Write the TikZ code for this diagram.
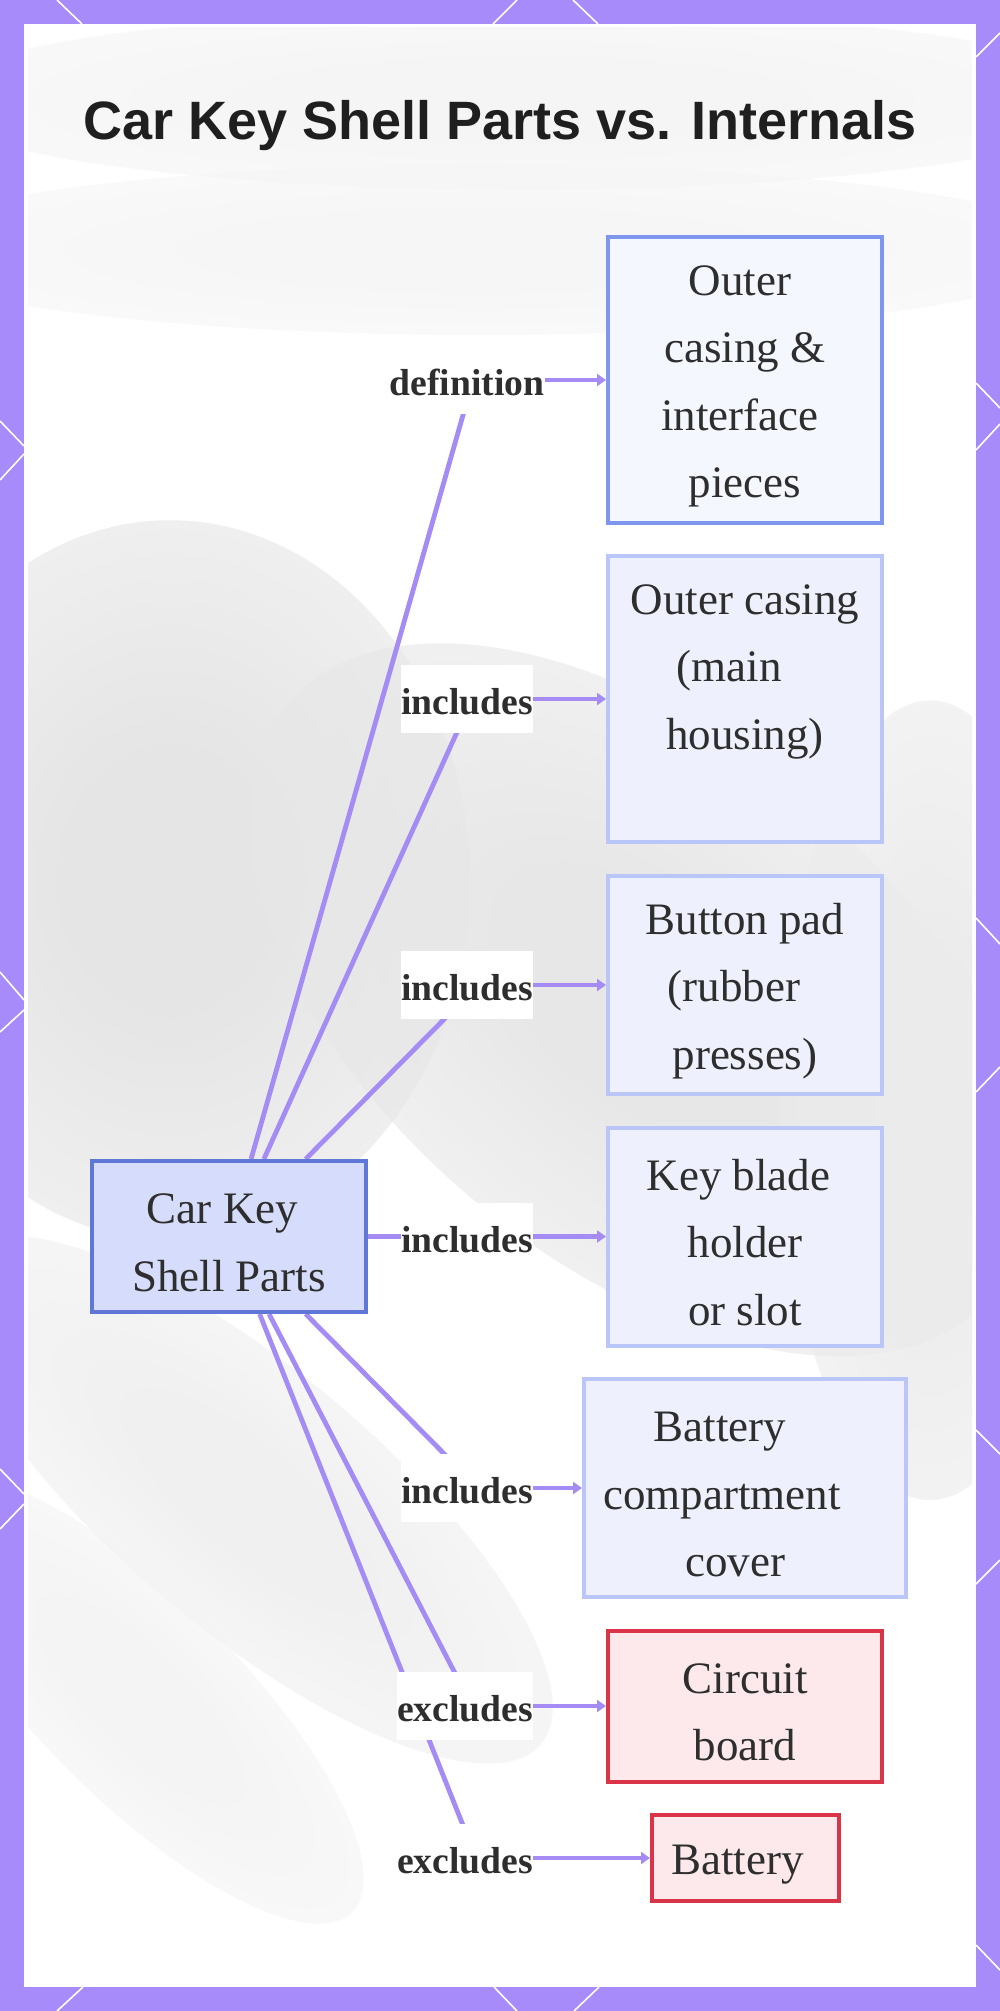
\documentclass[tikz,border=0pt]{standalone}
\usepackage{fontspec}
\setmainfont{Liberation Serif}
\newfontfamily\titlefont{Liberation Sans}
\usetikzlibrary{arrows.meta,fadings}

\definecolor{purp}{HTML}{A78BFA}
\definecolor{edgec}{HTML}{A48CF4}
\definecolor{txtc}{HTML}{2E2E2E}
\definecolor{titlec}{HTML}{1F1F1F}
\definecolor{cfill}{HTML}{D6DCFB}
\definecolor{cdraw}{HTML}{5F78D8}
\definecolor{dfill}{HTML}{F5F7FE}
\definecolor{ddraw}{HTML}{7E96EE}
\definecolor{ifill}{HTML}{EEF1FD}
\definecolor{idraw}{HTML}{BAC6F7}
\definecolor{xfill}{HTML}{FDE9EC}
\definecolor{xdraw}{HTML}{D93447}

\pgfdeclareradialshading{softshade}{\pgfpointorigin}{color(0bp)=(white); color(8bp)=(white); color(50bp)=(black)}
\pgfdeclarefading{soft}{\pgfuseshading{softshade}}

\pgfdeclarelayer{bg}
\pgfdeclarelayer{edges}
\pgfsetlayers{bg,edges,main}

\newcommand{\myblob}[6]{%
  \begin{scope}[transform canvas={rotate around={#5:(#1,#2)}}]
    \fill[#6, path fading=soft] (#1,#2) ellipse [x radius=#3, y radius=#4];
  \end{scope}}
% invisible struts that lower the text a little
\newcommand{\boxstrut}{\rule{0pt}{21.4pt}}
\newcommand{\labstrut}{\rule{0pt}{15.8pt}}
\newcommand{\trailsp}[1]{\rule{#1}{0pt}}

\begin{document}
\begin{tikzpicture}[x=0.5pt,y=-0.5pt,
  box/.style={draw, line width=2pt, align=center, inner sep=0pt, text=txtc,
    font=\fontsize{22.5}{33.75}\selectfont},
  centerbox/.style={box, fill=cfill, draw=cdraw},
  defbox/.style={box, fill=dfill, draw=ddraw},
  incbox/.style={box, fill=ifill, draw=idraw},
  excbox/.style={box, fill=xfill, draw=xdraw},
  lab/.style={fill=white, inner xsep=0pt, inner ysep=0pt, minimum height=34pt,
    text=txtc, font=\bfseries\fontsize{18.8}{22}\selectfont},
  edge/.style={draw=edgec, line width=2.4pt},
  arr/.style={edge, -{Triangle[length=4.5pt,width=6pt]}},
  deco/.style={draw=white, line width=0.8pt}
]
\useasboundingbox (0,0) rectangle (1000,2011);

% frame
\begin{pgfonlayer}{bg}
\fill[purp] (0,0) rectangle (1000,2011);
\fill[white] (24,24) rectangle (976,1987);
% white pattern lines on the border
\draw[deco] (57,0) -- (82,24);
\draw[deco] (517,0) -- (493,24);
\draw[deco] (573,0) -- (598,24);
\draw[deco] (1000,33) -- (976,57);
\draw[deco] (0,421) -- (24,446);
\draw[deco] (24,454) -- (0,480);
\draw[deco] (0,972) -- (24,1000);
\draw[deco] (24,1010) -- (0,1032);
\draw[deco] (0,1469) -- (24,1494);
\draw[deco] (24,1504) -- (0,1529);
\draw[deco] (976,383) -- (1000,408);
\draw[deco] (976,450) -- (1000,424);
\draw[deco] (976,918) -- (1000,944);
\draw[deco] (976,1092) -- (1000,1067);
\draw[deco] (976,1430) -- (1000,1454);
\draw[deco] (976,1584) -- (1000,1560);
\draw[deco] (976,1945) -- (1000,1970);
\draw[deco] (83,1987) -- (57,2011);
\draw[deco] (494,1987) -- (517,2011);
\draw[deco] (599,1987) -- (574,2011);
% blurred background photo
\begin{scope}
\clip (28,28) rectangle (972,1983);
\myblob{520}{100}{600}{90}{0}{gray!8}
\myblob{480}{250}{600}{85}{0}{gray!7}
\myblob{170}{880}{300}{360}{0}{gray!20}
\myblob{640}{1000}{460}{260}{-40}{gray!19}
\myblob{930}{1100}{150}{400}{0}{gray!16}
\myblob{250}{1500}{380}{130}{-40}{gray!12}
\myblob{140}{1700}{300}{100}{-45}{gray!9}
\end{scope}
\end{pgfonlayer}

% title
\node[font=\titlefont\bfseries\fontsize{27}{32}\selectfont, text=titlec, anchor=base]
  (title) at (500,140) {Car Key Shell Parts vs. Internals};

% central node
\node[centerbox, minimum width=137pt, minimum height=75.5pt] (c) at (229,1236.5)
  {\boxstrut Car Key\trailsp{6.5pt}\\Shell Parts};

% target nodes
\node[defbox, minimum width=137pt, minimum height=143pt] (n1) at (745,380)
  {\boxstrut Outer\trailsp{5pt}\\casing \&\\interface\trailsp{5pt}\\pieces};
\node[incbox, minimum width=137pt, minimum height=143pt] (n2) at (745,699)
  {\boxstrut Outer casing\\(main\trailsp{16pt}\\housing)\\\vphantom{p}};
\node[incbox, minimum width=137pt, minimum height=109pt] (n3) at (745,985)
  {\boxstrut Button pad\\(rubber\trailsp{11pt}\\presses)};
\node[incbox, minimum width=137pt, minimum height=109pt] (n4) at (745,1236.5)
  {\boxstrut Key blade\trailsp{6.5pt}\\holder\\or slot};
\node[incbox, minimum width=161pt, minimum height=109pt] (n5) at (745,1488)
  {\boxstrut Battery\trailsp{25pt}\\compartment\trailsp{23pt}\\cover\trailsp{10pt}};
\node[excbox, minimum width=137pt, minimum height=75.5pt] (n6) at (745,1706)
  {\boxstrut Circuit\\board};
\node[excbox, minimum width=93.5pt, minimum height=43pt] (n7) at (745.5,1858)
  {\boxstrut Battery\trailsp{8pt}};

% labels
\node[lab] (l1) at (467,380) {\labstrut definition};
\node[lab] (l2) at (467,699) {\labstrut includes};
\node[lab] (l3) at (467,985) {\labstrut includes};
\node[lab] (l4) at (467,1236.5) {\labstrut includes};
\node[lab] (l5) at (467,1488) {\labstrut includes};
\node[lab] (l6) at (465,1706) {\labstrut excludes};
\node[lab] (l7) at (465,1858) {\labstrut excludes};

% bend points of the connectors (hidden under the labels)
\coordinate (p1) at (473,380);
\coordinate (p2) at (472,699);
\coordinate (p3) at (478,985);
\coordinate (p5) at (478,1488);
\coordinate (p6) at (472,1706);
\coordinate (p7) at (476,1858);

% connectors
\begin{pgfonlayer}{edges}
\draw[edge] (c) -- (p1);
\draw[edge] (c) -- (p2);
\draw[edge] (c) -- (p3);
\draw[edge] (c) -- (l4);
\draw[edge] (c) -- (p5);
\draw[edge] (c) -- (p6);
\draw[edge] (c) -- (p7);
\draw[arr] (l1) -- (n1);
\draw[arr] (l2) -- (n2);
\draw[arr] (l3) -- (n3);
\draw[arr] (l4) -- (n4);
\draw[arr] (l5) -- (n5);
\draw[arr] (l6) -- (n6);
\draw[arr] (l7) -- (n7);
\end{pgfonlayer}
\end{tikzpicture}
\end{document}
